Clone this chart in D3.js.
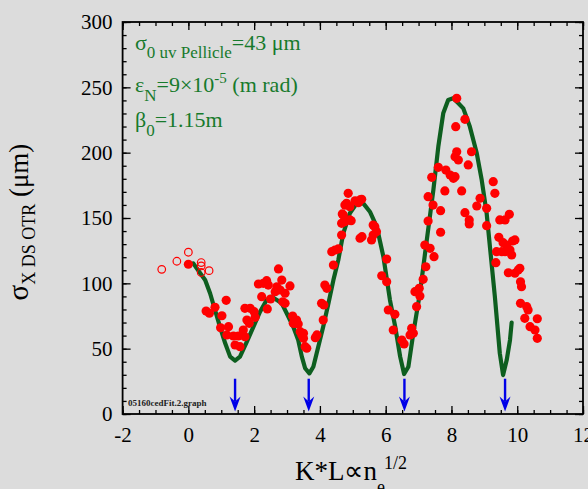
<!DOCTYPE html>
<html><head><meta charset="utf-8">
<script src="https://cdn.jsdelivr.net/npm/d3@7"></script>
<style>
html,body{margin:0;padding:0;background:#dcdcdc;}
svg{display:block;}
text{font-family:"Liberation Serif","Times New Roman",serif;}
</style></head>
<body>
<svg id="chart" width="588" height="489"></svg>
<script>
// ---- data ----
const xTickValues = [-2, 0, 2, 4, 6, 8, 10, 12];
const yTickValues = [0, 50, 100, 150, 200, 250, 300];

// fit curve (dark green)
const fitX = [0.15,0.36,0.51,0.66,0.81,0.96,1.12,1.27,1.42,1.57,1.78,1.98,2.18,2.38,2.53,2.69,2.84,2.99,3.19,3.34,3.45,3.55,3.68,3.80,3.95,4.10,4.26,4.41,4.56,4.71,4.91,5.12,5.32,5.52,5.73,5.93,6.13,6.29,6.44,6.56,6.69,6.84,7.04,7.25,7.45,7.60,7.75,7.90,8.05,8.21,8.36,8.56,8.77,8.92,9.07,9.17,9.32,9.47,9.57,9.68,9.78,9.83];
const fitY = [115.3,107.7,102.5,92.4,79.6,66.8,54.1,43.9,40.8,43.9,55.3,66.8,78.3,87.2,89.8,87.2,84.7,77.1,66.8,56.6,43.9,35.0,31.1,36.2,51.5,66.8,84.7,102.5,117.9,138.3,153.6,161.2,161.2,154.8,143.3,120.4,87.2,66.8,43.9,30.6,36.2,61.8,92.4,133.2,171.4,204.6,230.1,240.3,241.6,237.8,233.9,219.9,199.5,179.1,153.6,128.0,89.8,46.5,29.8,41.3,56.6,69.9];

// measured points (filled red)
const measX = [0.00,1.15,0.54,0.64,0.81,1.02,0.98,1.22,1.17,1.37,1.52,1.72,1.42,1.57,1.67,1.78,1.85,1.72,1.88,2.00,2.03,2.13,2.28,2.38,2.23,2.40,2.50,2.74,2.84,2.69,2.79,2.64,2.94,3.09,2.87,2.94,3.17,3.29,3.24,3.40,3.50,3.50,3.55,3.60,3.86,3.91,4.10,4.05,4.12,4.15,4.21,2.43,3.19,3.34,3.45,4.41,4.46,4.36,4.66,4.71,4.66,4.76,4.91,4.86,4.76,4.81,4.91,5.07,5.22,5.17,5.27,5.22,5.28,5.57,5.62,5.72,5.62,5.67,6.03,5.88,6.03,6.08,6.28,6.23,6.49,6.56,6.79,6.74,6.84,6.94,6.89,7.02,7.04,7.14,7.22,7.19,7.35,7.47,7.29,7.44,7.29,7.67,7.67,7.60,7.40,7.83,7.96,8.11,8.06,7.80,8.31,8.11,8.16,8.21,8.51,8.61,8.13,8.41,8.16,8.41,8.54,8.54,8.77,8.87,9.07,9.07,9.27,9.32,9.47,9.63,9.76,9.44,9.57,9.68,9.86,9.93,9.37,9.53,9.63,9.78,9.83,9.35,9.73,9.93,10.03,10.08,10.10,10.13,10.10,10.29,10.33,10.23,10.39,10.54,10.61,10.61,4.56,4.95,4.68];
const measY = [114.6,87.0,78.8,77.1,81.7,75.2,66.0,66.8,60.5,59.7,59.7,59.2,52.8,51.5,64.3,71.9,69.4,80.9,80.9,78.3,74.0,99.5,100.0,102.0,89.8,80.4,88.0,111.0,102.5,97.4,94.9,93.6,92.4,98.0,85.9,84.7,75.0,71.9,69.4,63.0,61.8,57.9,51.5,50.3,58.4,60.5,71.9,84.7,83.4,98.7,96.2,98.7,69.4,68.9,60.5,114.0,125.5,124.2,137.0,152.3,145.9,147.2,148.5,168.9,159.9,161.2,158.6,163.2,163.8,161.7,164.3,134.5,135.7,133.2,137.0,139.5,144.6,143.3,118.6,105.8,101.2,79.6,76.3,64.3,56.6,53.6,65.6,60.5,61.8,82.1,93.6,96.2,90.3,103.1,112.7,129.3,126.8,120.4,147.7,159.9,166.3,155.6,139.1,188.8,181.1,186.7,182.9,181.6,180.4,170.7,170.7,196.9,200.7,194.4,190.6,200.7,219.9,225.5,241.6,154.1,148.5,145.4,159.2,165.1,157.4,144.1,177.8,168.9,148.5,148.5,152.8,135.2,131.1,129.3,132.4,133.2,124.2,124.2,124.2,125.5,121.7,115.8,108.1,107.7,110.2,111.5,101.2,97.4,84.7,82.1,79.6,73.2,66.8,64.3,72.9,57.9,126.3,147.9,153.1];

// open red circles
const openX = [-0.81,-0.35,0.00,0.39,0.39,0.39,0.63];
const openY = [110.7,116.9,123.8,115.9,113.3,108.3,109.7];

// blue arrows marking minima
const arrowX = [1.42, 3.66, 6.57, 9.63];
const arrowTop = 27, arrowTip = 2;

// ---- drawing ----
const svg = d3.select("#chart");
const W = 588, H = 489;
svg.append("rect").attr("width", W).attr("height", H).attr("fill", "#dcdcdc");

const x = d3.scaleLinear().domain([-2, 12]).range([122.6, 583]);
const y = d3.scaleLinear().domain([0, 300]).range([414, 22]);

const xMinor = d3.range(-2, 12.001, 0.5);
const yMinor = d3.range(0, 300.001, 10);
const fmt = d => String(d); // plain hyphen for negatives, as in the reference

function styleAxis(g){
  g.select(".domain").remove();
  g.selectAll("line").attr("stroke", "#000").attr("stroke-width", 1.3);
  g.selectAll("text").attr("fill", "#000").attr("font-size", 21)
    .attr("font-family", '"Liberation Serif","Times New Roman",serif');
}
// bottom
svg.append("g").attr("transform", `translate(0,${y(0)})`)
  .call(d3.axisBottom(x).tickValues(xMinor).tickSize(-4).tickFormat(""))
  .call(styleAxis);
svg.append("g").attr("transform", `translate(0,${y(0)})`)
  .call(d3.axisBottom(x).tickValues(xTickValues).tickSize(-8).tickPadding(13).tickFormat(fmt))
  .call(styleAxis);
// top
svg.append("g").attr("transform", `translate(0,${y(300)})`)
  .call(d3.axisTop(x).tickValues(xMinor).tickSize(-4).tickFormat(""))
  .call(styleAxis);
svg.append("g").attr("transform", `translate(0,${y(300)})`)
  .call(d3.axisTop(x).tickValues(xTickValues).tickSize(-8).tickFormat(""))
  .call(styleAxis);
// left
svg.append("g").attr("transform", `translate(${x(-2)},0)`)
  .call(d3.axisLeft(y).tickValues(yMinor).tickSize(-4).tickFormat(""))
  .call(styleAxis);
svg.append("g").attr("transform", `translate(${x(-2)},0)`)
  .call(d3.axisLeft(y).tickValues(yTickValues).tickSize(-8).tickPadding(10).tickFormat(fmt))
  .call(styleAxis);
// right
svg.append("g").attr("transform", `translate(${x(12)},0)`)
  .call(d3.axisRight(y).tickValues(yMinor).tickSize(-4).tickFormat(""))
  .call(styleAxis);
svg.append("g").attr("transform", `translate(${x(12)},0)`)
  .call(d3.axisRight(y).tickValues(yTickValues).tickSize(-8).tickFormat(""))
  .call(styleAxis);

// frame
svg.append("rect").attr("x", x(-2)).attr("y", y(300))
  .attr("width", x(12) - x(-2)).attr("height", y(0) - y(300))
  .attr("fill", "none").attr("stroke", "#000").attr("stroke-width", 1.8);

// fit curve
const fitData = fitX.map((d, i) => [d, fitY[i]]);
svg.append("path").datum(fitData)
  .attr("d", d3.line().x(d => x(d[0])).y(d => y(d[1])).curve(d3.curveLinear))
  .attr("fill", "none").attr("stroke", "#0d5e1f").attr("stroke-width", 4.2)
  .attr("stroke-linejoin", "round").attr("stroke-linecap", "round");

// measured points
svg.append("g").selectAll("circle").data(measX.map((d, i) => [d, measY[i]]))
  .join("circle").attr("cx", d => x(d[0])).attr("cy", d => y(d[1])).attr("r", 4.6)
  .attr("fill", "#ff0000");

svg.append("g").selectAll("circle").data(openX.map((d, i) => [d, openY[i]]))
  .join("circle").attr("cx", d => x(d[0])).attr("cy", d => y(d[1])).attr("r", 3.8)
  .attr("fill", "none").attr("stroke", "#ff0000").attr("stroke-width", 1.2);

// arrows
const ag = svg.append("g");
arrowX.forEach(a => {
  const cx = x(a), y0 = y(arrowTop), y1 = y(arrowTip);
  ag.append("line").attr("x1", cx).attr("x2", cx).attr("y1", y0).attr("y2", y1 - 10)
    .attr("stroke", "#0000e8").attr("stroke-width", 2.4);
  ag.append("path")
    .attr("d", `M${cx},${y1} L${cx - 5.5},${y1 - 15} L${cx},${y1 - 10} L${cx + 5.5},${y1 - 15} Z`)
    .attr("fill", "#0000e8");
});

// file label
svg.append("text").attr("x", 128).attr("y", 406).attr("font-size", 9).attr("font-weight", "bold")
  .attr("fill", "#222").text("05160cedFit.2.graph");

// annotations (green)
const green = "#177a2c";
const t1 = svg.append("text").attr("x", 135).attr("y", 50).attr("fill", green).attr("font-size", 22);
t1.append("tspan").text("σ");
t1.append("tspan").attr("font-size", 17).attr("dy", 8).text("0 uv Pellicle");
t1.append("tspan").attr("dy", -8).text("=43 μm");

const t2 = svg.append("text").attr("x", 135).attr("y", 92).attr("fill", green).attr("font-size", 22);
t2.append("tspan").text("ε");
t2.append("tspan").attr("font-size", 17).attr("dy", 9).text("N");
t2.append("tspan").attr("dy", -9).text("=9×10");
t2.append("tspan").attr("font-size", 15).attr("dy", -9).text("-5");
t2.append("tspan").attr("dy", 9).text(" (m rad)");

const t3 = svg.append("text").attr("x", 135).attr("y", 127).attr("fill", green).attr("font-size", 22);
t3.append("tspan").text("β");
t3.append("tspan").attr("font-size", 17).attr("dy", 9).text("0");
t3.append("tspan").attr("dy", -9).text("=1.15m");

// x axis title
const xt = svg.append("text").attr("x", 295).attr("y", 480).attr("fill", "#000").attr("font-size", 27);
xt.append("tspan").text("K*L∝n");
xt.append("tspan").attr("font-size", 18).attr("dy", 13).text("e");
xt.append("tspan").attr("font-size", 18).attr("dx", -1).attr("dy", -24).text("1/2");

// y axis title
const yt = svg.append("text").attr("transform", "translate(28,300.5) rotate(-90)")
  .attr("fill", "#000").attr("font-size", 29);
yt.append("tspan").text("σ");
yt.append("tspan").attr("font-size", 18).attr("dy", 7).text("X DS OTR");
yt.append("tspan").attr("font-size", 27).attr("dy", -7).text(" (μm)");
</script>
</body></html>
